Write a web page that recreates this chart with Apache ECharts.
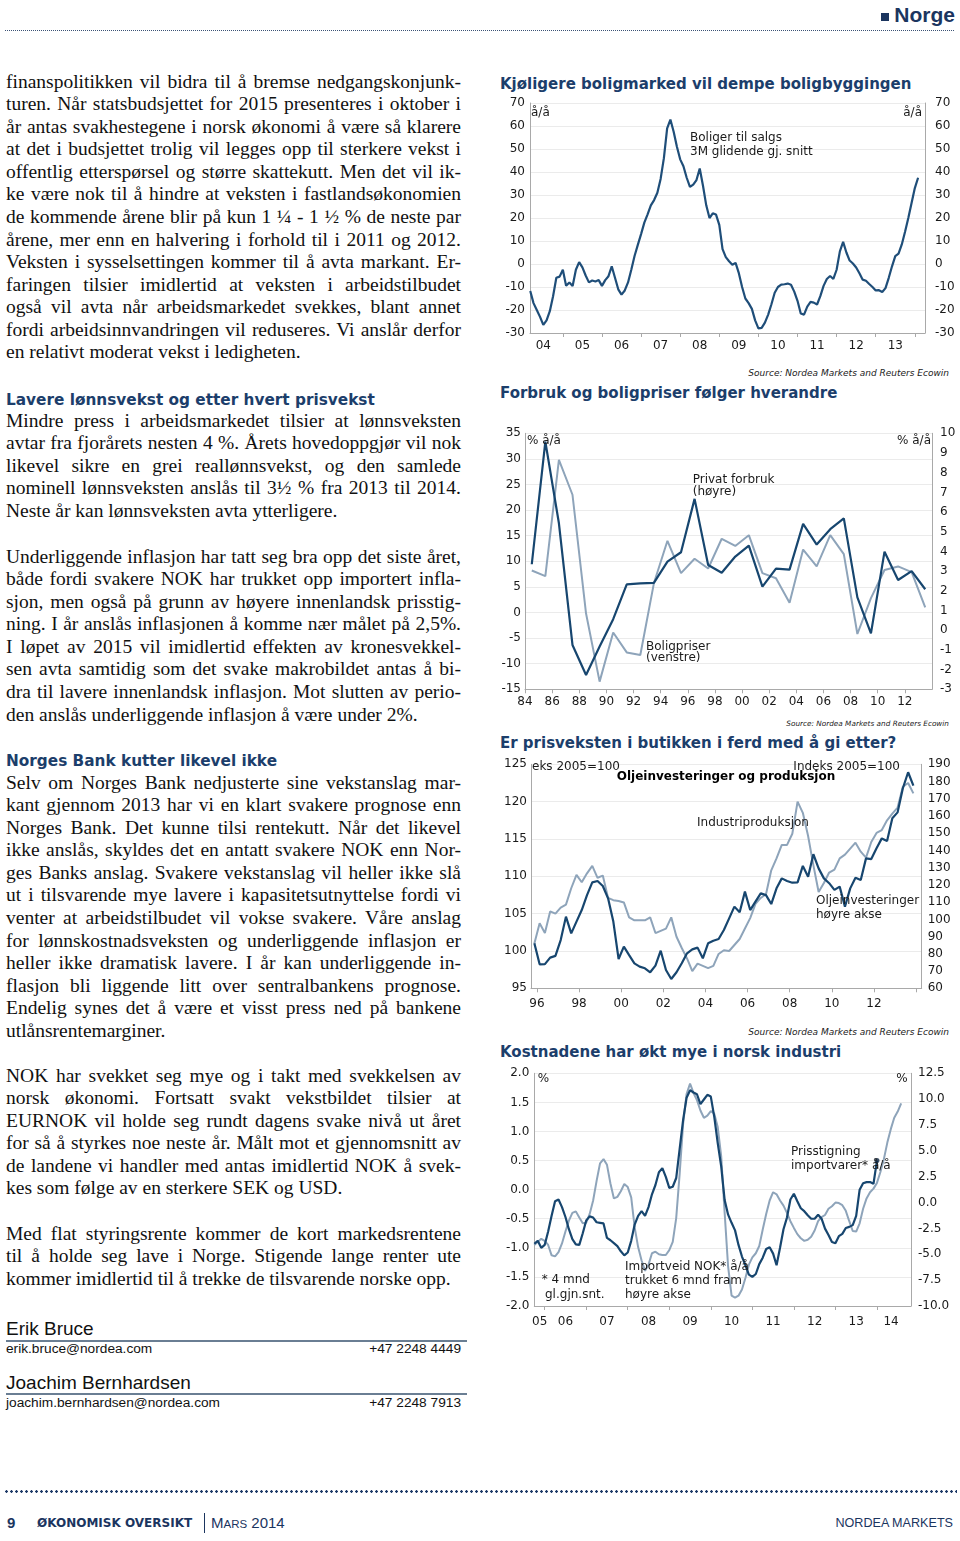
<!DOCTYPE html>
<html><head><meta charset="utf-8">
<script src="https://cdn.jsdelivr.net/npm/echarts@6/dist/echarts.min.js"></script>
<style>
html,body{margin:0;padding:0;background:#fff;}
body{width:960px;height:1541px;position:relative;overflow:hidden;color:#111;}
#txt{position:absolute;left:0;top:0;width:960px;height:1541px;z-index:1;}
#txt > div{position:absolute;}
#c{position:absolute;left:0;top:0;width:960px;height:1541px;z-index:2;pointer-events:none;}
.ln{left:6px;width:455px;height:22.6px;line-height:22.6px;font-family:"Liberation Serif","Times New Roman",serif;font-size:19.5px;text-align:justify;text-align-last:justify;white-space:normal;color:#111;}
.ln.last{text-align-last:left;}
.hd{left:6px;height:20px;line-height:20px;font-family:"DejaVu Sans",Verdana,sans-serif;font-weight:bold;font-size:15.3px;color:#1c3e6b;white-space:nowrap;}
.ct{left:500px;height:20px;line-height:20px;font-family:"DejaVu Sans",Verdana,sans-serif;font-weight:bold;font-size:15px;color:#1c3e6b;white-space:nowrap;}
.src{right:11px;height:12px;line-height:12px;font-family:"DejaVu Sans",Verdana,sans-serif;font-style:italic;font-size:9px;color:#222;white-space:nowrap;}
.sans{font-family:"Liberation Sans",Arial,sans-serif;white-space:nowrap;}
</style>
</head><body>
<div id="txt"></div>
<div id="c"></div>
<script>
// ---------- Chart data ----------
// Chart 1: Boliger til salgs, 3M glidende gj.snitt, % å/å (monthly, from Mar 2004)
const ch1Start = [2004, 3];
const ch1Values = [-11.7,-17,-20,-23,-26.5,-24.5,-20.5,-14,-6,-5.5,-2.5,-9.5,-8,-9.6,-2.5,0.8,-1.5,-5,-8,-7.2,
  -7.6,-7,-9.5,-7,-5.3,-1,-6,-11,-13.3,-11.5,-8,-2.5,3.5,8.3,13,18,21.6,25.5,27.8,31,
  37,46,59,62.8,57.5,51,45.5,42.5,37.5,33.5,34.5,36.5,41.5,34,25.5,20,22,21.5,17,6.5,
  3,1.2,-0.3,0.5,-4,-10,-15,-17,-19.5,-24.5,-28,-27.8,-25.5,-22,-17.5,-12.5,-10,-9,-8.8,-8.5,
  -9,-12,-16,-21.5,-22,-18.5,-16.5,-16.8,-17.6,-14,-9.5,-6.5,-5.2,-6.5,-2.5,5.5,9.6,5,1.5,0.2,
  -1.5,-4,-6.8,-7.3,-8.7,-10,-11.5,-11.4,-12.2,-10.5,-6,-1,3.4,4.5,8.5,14,20,26.5,33,37.5];
const ch1XLabels = [2004,2005,2006,2007,2008,2009,2010,2011,2012,2013];

// Chart 2: Forbruk og boligpriser (annual)
const ch2Years = [1984,1985,1986,1987,1988,1989,1990,1991,1992,1993,1994,1995,1996,1997,1998,
  1999,2000,2001,2002,2003,2004,2005,2006,2007,2008,2009,2010,2011,2012,2013];
const ch2PrivatForbruk = [3.35,9.58,5.43,-0.75,-2.27,-0.83,0.56,2.33,2.38,2.4,3.48,3.96,6.67,3.31,2.92,
  3.74,4.3,2.21,3.13,3.08,5.4,4.35,5.13,5.68,1.67,-0.16,3.99,2.55,3.0,2.08];
const ch2Boligpriser = [8.2,7.1,29.8,23.0,-0.2,-13.5,-3.9,-7.8,-8.3,5.7,14.0,7.7,10.5,8.6,14.4,
  13.0,15.1,7.7,6.7,1.9,12.3,9.0,15.1,11.4,-4.2,2.8,8.3,9.0,7.9,1.0];
const ch2XLabels = [1984,1986,1988,1990,1992,1994,1996,1998,2000,2002,2004,2006,2008,2010,2012];

// Chart 3: Oljeinvesteringer og produksjon (quarterly, from 1995Q4), Indeks 2005=100
const ch3Start = [1995, 4];
const ch3Olje = [86.1,73.9,74,77.8,78.8,88,101.6,91.9,98.7,105.4,114.1,121.5,122.3,119.4,112.2,98.7,77,84.2,79.3,74.5,
  72.6,71.6,69.3,73.2,81.8,70.6,65.4,69.3,74.5,80.3,82.6,83.6,77.4,86.1,87.6,88.6,93.8,100.6,107.4,104.1,
  116.1,105.4,110.3,115.1,114.1,108.9,118,123.8,122.3,121.3,121.5,131,124.8,137.8,129.6,123.8,121,117.1,119,107.4,
  118,124.2,122.9,135.4,135,141.3,147,145.5,158.7,162.1,176.1,185.4,177.6];
const ch3Industri = [101.0,103.7,102.4,105.3,105.0,105.8,106.2,108.4,110.2,109.2,110.4,111.4,109.8,110.1,107.1,106.8,106.7,106.5,104.5,104.1,
  104.1,104.1,104.5,102.4,102.7,103.0,104.5,101.9,100.4,99.0,97.3,98.3,98.0,97.7,98.0,99.6,100.1,100.0,100.8,101.6,
  103.0,104.4,106.3,107.1,107.6,110.8,112.4,114.2,114.2,115.7,120.0,118.5,115.4,111.5,107.9,109.1,110.5,110.9,112.4,112.9,
  113.7,114.5,113.3,112.5,114.6,115.8,116.2,117.5,118.4,119.2,122.0,122.5,121.1];
const ch3XLabels = [1996,1998,2000,2002,2004,2006,2008,2010,2012];

// Chart 4: Kostnadene (monthly, from Oct 2005)
const ch4Start = [2005, 10];
const ch4Prisstigning = [-0.93,-0.88,-1.0,-0.95,-0.72,-0.45,-0.2,-0.17,-0.3,-0.47,-0.68,-0.85,-0.94,-0.95,-0.75,-0.53,-0.46,-0.48,-0.56,-0.57,
  -0.58,-0.83,-0.87,-0.92,-0.97,-1.06,-1.13,-1.08,-0.88,-0.6,-0.45,-0.37,-0.45,-0.3,-0.08,0.08,0.3,0.37,0.22,0.03,
  0.05,0.2,0.7,1.2,1.58,1.71,1.67,1.64,1.47,1.55,1.63,1.6,1.25,0.8,0.4,-0.18,-0.43,-0.57,-0.7,-0.95,
  -1.15,-1.3,-1.46,-1.5,-1.45,-1.28,-1.17,-1.02,-0.99,-1.1,-1.3,-1.0,-0.68,-0.48,-0.17,-0.07,-0.2,-0.32,-0.37,-0.44,
  -0.5,-0.5,-0.43,-0.5,-0.67,-0.78,-0.9,-0.92,-0.8,-0.76,-0.66,-0.64,-0.61,-0.45,0.0,0.11,0.13,0.13,0.1,0.5];
const ch4ImportveidNOK = [-4.1,-3.8,-3.5,-3.7,-4.1,-5.1,-5.2,-4.8,-3.95,-2.8,-1.75,-1.0,-0.85,-1.45,-2.0,-1.95,-1.1,0.2,2.1,3.8,
  4.2,3.65,1.85,0.4,0.55,1.1,1.8,1.5,0.5,-2.4,-4.3,-5.6,-6.6,-6.0,-4.9,-4.75,-5.0,-5.07,-5.07,-4.6,
  -3.8,-1.5,2.8,7.6,10.5,11.5,10.6,9.9,8.9,8.2,8.4,8.85,8.6,7.3,4.5,-1.0,-6.2,-9.0,-9.2,-9.0,
  -8.4,-7.3,-6.0,-5.3,-4.9,-4.2,-2.6,-1.1,0.2,1.0,0.8,0.2,-0.3,-1.0,-1.8,-2.45,-3.05,-3.45,-3.7,-3.6,
  -3.3,-2.7,-1.8,-1.4,-1.2,-0.6,-0.35,0.0,-0.05,-0.25,-0.8,-1.8,-2.75,-2.8,-2.0,-0.6,0.4,1.0,1.35,1.9,
  2.95,4.2,5.8,7.1,8.2,8.8,9.6];
const ch4XLabelPos = [2005.88,2006.5,2007.5,2008.5,2009.5,2010.5,2011.5,2012.5,2013.5,2014.34];

// ---------- Page text ----------
const paragraphs = [
 {y:83, lines:[
  "finanspolitikken vil bidra til å bremse nedgangskonjunk-",
  "turen. Når statsbudsjettet for 2015 presenteres i oktober i",
  "år antas svakhestegene i norsk økonomi å være så klarere",
  "at det i budsjettet trolig vil legges opp til sterkere vekst i",
  "offentlig etterspørsel og større skattekutt. Men det vil ik-",
  "ke være nok til å hindre at veksten i fastlandsøkonomien",
  "de kommende årene blir på kun 1 ¼ - 1 ½ % de neste par",
  "årene, mer enn en halvering i forhold til i 2011 og 2012.",
  "Veksten i sysselsettingen kommer til å avta markant. Er-",
  "faringen tilsier imidlertid at veksten i arbeidstilbudet",
  "også vil avta når arbeidsmarkedet svekkes, blant annet",
  "fordi arbeidsinnvandringen vil reduseres. Vi anslår derfor",
  "en relativt moderat vekst i ledigheten."]},
 {y:422, lines:[
  "Mindre press i arbeidsmarkedet tilsier at lønnsveksten",
  "avtar fra fjorårets nesten 4 %. Årets hovedoppgjør vil nok",
  "likevel sikre en grei reallønnsvekst, og den samlede",
  "nominell lønnsveksten anslås til 3½ % fra 2013 til 2014.",
  "Neste år kan lønnsveksten avta ytterligere."]},
 {y:558, lines:[
  "Underliggende inflasjon har tatt seg bra opp det siste året,",
  "både fordi svakere NOK har trukket opp importert infla-",
  "sjon, men også på grunn av høyere innenlandsk prisstig-",
  "ning. I år anslås inflasjonen å komme nær målet på 2,5%.",
  "I løpet av 2015 vil imidlertid effekten av kronesvekkel-",
  "sen avta samtidig som det svake makrobildet antas å bi-",
  "dra til lavere innenlandsk inflasjon. Mot slutten av perio-",
  "den anslås underliggende inflasjon å være under 2%."]},
 {y:784, lines:[
  "Selv om Norges Bank nedjusterte sine vekstanslag mar-",
  "kant gjennom 2013 har vi en klart svakere prognose enn",
  "Norges Bank. Det kunne tilsi rentekutt. Når det likevel",
  "ikke anslås, skyldes det en antatt svakere NOK enn Nor-",
  "ges Banks anslag. Svakere vekstanslag vil heller ikke slå",
  "ut i tilsvarende mye lavere i kapasitetsutnyttelse fordi vi",
  "venter at arbeidstilbudet vil vokse svakere. Våre anslag",
  "for lønnskostnadsveksten og underliggende inflasjon er",
  "heller ikke dramatisk lavere. I år kan underliggende in-",
  "flasjon bli liggende litt over sentralbankens prognose.",
  "Endelig synes det å være et visst press ned på bankene",
  "utlånsrentemarginer."]},
 {y:1077, lines:[
  "NOK har svekket seg mye og i takt med svekkelsen av",
  "norsk økonomi. Fortsatt svakt vekstbildet tilsier at",
  "EURNOK vil holde seg rundt dagens svake nivå ut året",
  "for så å styrkes noe neste år. Målt mot et gjennomsnitt av",
  "de landene vi handler med antas imidlertid NOK å svek-",
  "kes som følge av en sterkere SEK og USD."]},
 {y:1235, lines:[
  "Med flat styringsrente kommer de kort markedsrentene",
  "til å holde seg lave i Norge. Stigende lange renter ute",
  "kommer imidlertid til å trekke de tilsvarende norske opp."]}
];
const headings = [
 {y:400, text:"Lavere lønnsvekst og etter hvert prisvekst"},
 {y:761, text:"Norges Bank kutter likevel ikke"}
];
const chartTitles = [
 {y:84, text:"Kjøligere boligmarked vil dempe boligbyggingen"},
 {y:392.7, text:"Forbruk og boligpriser følger hverandre"},
 {y:742.7, text:"Er prisveksten i butikken i ferd med å gi etter?"},
 {y:1051.7, text:"Kostnadene har økt mye i norsk industri"}
];
const sources = [{y:372.7, size:9}, {y:724.3, size:7.3}, {y:1031.7, size:9}];

const T = document.getElementById('txt');
function add(html, style, cls){ const d=document.createElement('div'); if(cls) d.className=cls; d.innerHTML=html; Object.assign(d.style, style); T.appendChild(d); return d; }
const LH = 22.58;
paragraphs.forEach(p=>{
  p.lines.forEach((l,i)=>{
    add(l, {top:(p.y - 12.5 + i*LH)+'px'}, 'ln' + (i===p.lines.length-1 ? ' last' : ''));
  });
});
headings.forEach(h=> add(h.text, {top:(h.y-10)+'px'}, 'hd'));
chartTitles.forEach(h=> add(h.text, {top:(h.y-10)+'px'}, 'ct'));
sources.forEach(s=> add('Source: Nordea Markets and Reuters Ecowin', {top:(s.y-6)+'px', fontSize:s.size+'px'}, 'src'));

// header
add('<span style="display:inline-block;width:8px;height:8px;background:#1b355f;margin-right:5px;vertical-align:1px"></span>Norge',
  {right:'5px', top:'4px', fontSize:'21px', fontWeight:'bold', color:'#1b355f', lineHeight:'22px'}, 'sans');
add('', {left:'5px', top:'30px', width:'950px', height:'1px',
  background:'repeating-linear-gradient(90deg, #3b5275 0 1px, transparent 1px 2px)'});
// authors
add('Erik Bruce', {left:'6px', top:'1318px', fontSize:'19px', lineHeight:'22px', color:'#111'}, 'sans');
add('', {left:'6px', top:'1340px', width:'461px', height:'2px', background:'#6a7e93'});
add('erik.bruce@nordea.com', {left:'6px', top:'1341px', fontSize:'13.7px', lineHeight:'16px'}, 'sans');
add('+47 2248 4449', {right:'499px', top:'1341px', fontSize:'13.7px', lineHeight:'16px'}, 'sans');
add('Joachim Bernhardsen', {left:'6px', top:'1371.5px', fontSize:'19px', lineHeight:'22px', color:'#111'}, 'sans');
add('', {left:'6px', top:'1393.3px', width:'461px', height:'2px', background:'#6a7e93'});
add('joachim.bernhardsen@nordea.com', {left:'6px', top:'1394.5px', fontSize:'13.7px', lineHeight:'16px'}, 'sans');
add('+47 2248 7913', {right:'499px', top:'1394.5px', fontSize:'13.7px', lineHeight:'16px'}, 'sans');
// footer
add('', {left:'5px', top:'1490px', width:'952px', height:'3px',
  background:'radial-gradient(circle at 1.5px 1.5px, #1f3b68 1.1px, transparent 1.5px) 0 0 / 5px 3px repeat-x'});
add('9', {left:'7px', top:'1514px', fontSize:'15px', fontWeight:'bold', color:'#1b355f', lineHeight:'18px'}, 'sans');
add('ØKONOMISK OVERSIKT', {left:'37px', top:'1516px', fontFamily:'"DejaVu Sans",sans-serif', fontSize:'12px', fontWeight:'bold', color:'#1b355f', lineHeight:'14px', whiteSpace:'nowrap'});
add('', {left:'204px', top:'1513px', width:'1px', height:'20px', background:'#1b355f'});
add('M<span style="font-size:11.5px">ARS</span> 2014', {left:'211px', top:'1514px', fontSize:'15px', color:'#1b355f', lineHeight:'18px'}, 'sans');
add('NORDEA MARKETS', {right:'7px', top:'1515px', fontSize:'12.6px', color:'#1b355f', lineHeight:'16px'}, 'sans');

// ---------- ECharts ----------
const FONT = '"DejaVu Sans", Verdana, sans-serif';
const DARK = '#17466f', LIGHT = '#8ea4ba', AXC = '#a9a9a9', GRC = '#ebebeb', TXC = '#1a1a1a';
const yy = v => String(Math.floor(v + 1e-6)).slice(2);

const monthly = (start, vals) => vals.map((v,i)=>[start[0] + (start[1]-1+i)/12, v]);
const quarterly = (start, vals) => vals.map((v,i)=>[start[0] + (start[1]-1)/4 + 0.125 + i/4, v]);

function xAxis(gi, min, max, labelVals, tickVals, margin){
  return {type:'value', gridIndex:gi, min, max,
    axisLine:{show:true, onZero:false, lineStyle:{color:AXC, width:1}},
    axisTick:{show:true, customValues:tickVals, length:4, lineStyle:{color:AXC}},
    axisLabel:{customValues:labelVals, formatter:yy, margin, color:TXC, fontFamily:FONT, fontSize:12},
    splitLine:{show:false}};
}
function yAxis(gi, pos, min, max, interval, margin, grid, fmt){
  return {type:'value', gridIndex:gi, position:pos, min, max, interval,
    axisLine:{show:true, lineStyle:{color:AXC, width:1}},
    axisTick:{show:false},
    axisLabel:{margin, color:TXC, fontFamily:FONT, fontSize:12, formatter:fmt||null},
    splitLine:{show:grid, lineStyle:{color:GRC, width:1}}};
}
const f1 = v => v.toFixed(1);

const ch4Dark = monthly(ch4Start, ch4Prisstigning);

function txt(x, y, text, extra){
  return {type:'text', x, y, silent:true, z:100,
    style:Object.assign({text, font:'12px '+FONT, fill:TXC, align:'left', verticalAlign:'middle'}, extra||{})};
}

const option = {
  animation:false,
  grid:[
    {left:530, top:103, width:395, height:230},
    {left:525, top:433.3, width:407, height:256},
    {left:531, top:764.3, width:390.7, height:224},
    {left:534.3, top:1073.3, width:376.7, height:232.7}
  ],
  xAxis:[
    xAxis(0, 2004.16, 2014.26, ch1XLabels.map(y=>y+0.5), [2005,2006,2007,2008,2009,2010,2011,2012,2013,2014], 7),
    xAxis(1, 1984, 2014, ch2XLabels, ch2XLabels, 7),
    xAxis(2, 1995.715, 2014.27, ch3XLabels, ch3XLabels.concat([2014]), 10),
    xAxis(3, 2005.75, 2014.82, ch4XLabelPos, [2006,2007,2008,2009,2010,2011,2012,2013,2014], 10)
  ],
  yAxis:[
    yAxis(0,'left',-30,70,10,5,true),
    yAxis(0,'right',-30,70,10,10,false),
    yAxis(1,'left',-15,35,5,4,true),
    yAxis(1,'right',-3,10,1,8,false),
    yAxis(2,'left',95,125,5,4,true),
    yAxis(2,'right',60,190,10,6,false),
    yAxis(3,'left',-2,2,0.5,5,true,f1),
    yAxis(3,'right',-10,12.5,2.5,7,false,f1)
  ],
  series:[
    {type:'line', name:'Boliger til salgs', xAxisIndex:0, yAxisIndex:0, data:monthly(ch1Start, ch1Values),
      symbol:'none', lineStyle:{color:'#1f4e79', width:2.2}, z:3},
    {type:'line', name:'Boligpriser', xAxisIndex:1, yAxisIndex:2, data:ch2Years.map((y,i)=>[y+0.5, ch2Boligpriser[i]]),
      symbol:'none', lineStyle:{color:LIGHT, width:2}, z:2},
    {type:'line', name:'Privat forbruk', xAxisIndex:1, yAxisIndex:3, data:ch2Years.map((y,i)=>[y+0.5, ch2PrivatForbruk[i]]),
      symbol:'none', lineStyle:{color:DARK, width:2.2}, z:3},
    {type:'line', name:'Industriproduksjon', xAxisIndex:2, yAxisIndex:4, data:quarterly(ch3Start, ch3Industri),
      symbol:'none', lineStyle:{color:LIGHT, width:2}, z:2},
    {type:'line', name:'Oljeinvesteringer', xAxisIndex:2, yAxisIndex:5, data:quarterly(ch3Start, ch3Olje),
      symbol:'none', lineStyle:{color:DARK, width:2.2}, z:3},
    {type:'line', name:'Importveid NOK', xAxisIndex:3, yAxisIndex:7, data:monthly(ch4Start, ch4ImportveidNOK),
      symbol:'none', lineStyle:{color:LIGHT, width:2}, z:2},
    {type:'line', name:'Prisstigning importvarer', xAxisIndex:3, yAxisIndex:6, data:ch4Dark,
      symbol:'none', lineStyle:{color:DARK, width:2.2}, z:3},
    {type:'scatter', xAxisIndex:3, yAxisIndex:6, data:[ch4Dark[ch4Dark.length-1]], symbolSize:5,
      itemStyle:{color:'#0d2440'}, z:4}
  ],
  graphic:[
    // chart 1
    txt(531, 113, 'å/å'), txt(922, 113, 'å/å', {align:'right'}),
    txt(690, 137.7, 'Boliger til salgs'), txt(690, 152, '3M glidende gj. snitt'),
    // chart 2
    txt(527, 441, '% å/å'), txt(931, 441, '% å/å', {align:'right'}),
    txt(692.7, 480, 'Privat forbruk'), txt(692.7, 492.3, '(høyre)'),
    txt(646, 646.7, 'Boligpriser'), txt(646, 658.3, '(venstre)'),
    // chart 3
    txt(532, 767.3, 'eks 2005=100'), txt(900, 767.3, 'Indeks 2005=100', {align:'right'}),
    txt(616.7, 776.7, 'Oljeinvesteringer og produksjon', {font:'bold 12px '+FONT, fill:'#000'}),
    txt(697, 822.7, 'Industriproduksjon'),
    txt(816, 901, 'Oljeinvesteringer'), txt(816, 915.3, 'høyre akse'),
    // chart 4
    txt(537.7, 1079.3, '%'), txt(907.7, 1079.3, '%', {align:'right'}),
    txt(791, 1151.7, 'Prisstigning'), txt(791, 1166, 'importvarer* å/å'),
    txt(541.7, 1280, '* 4 mnd'), txt(545, 1295, 'gl.gjn.snt.'),
    txt(625, 1266.7, 'Importveid NOK* å/å'), txt(625, 1280.7, 'trukket 6 mnd fram'), txt(625, 1295.3, 'høyre akse')
  ]
};
const chart = echarts.init(document.getElementById('c'), null, {renderer:'canvas', width:960, height:1541});
chart.setOption(option);
</script>
</body></html>
